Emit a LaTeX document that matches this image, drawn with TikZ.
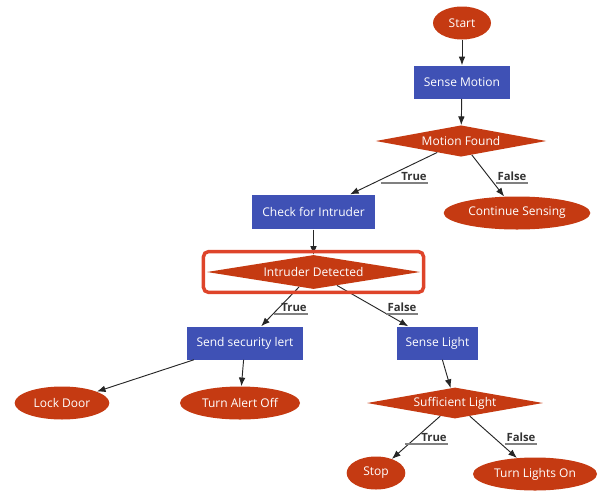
\documentclass[tikz,border=0pt]{standalone}
\usepackage{fontspec}
\setmainfont{Open Sans}
\usetikzlibrary{positioning,fit,shapes.geometric,arrows.meta}
\definecolor{flowred}{RGB}{197,58,18}
\definecolor{flowblue}{RGB}{63,81,181}
\definecolor{hired}{RGB}{222,68,42}

\begin{document}
\begin{tikzpicture}[
    x=0.75pt, y=-0.75pt,
    every node/.style={font=\fontsize{9}{10.5}\selectfont},
    term/.style={ellipse, fill=flowred, text=white, inner sep=1pt,
        minimum height=24.75pt},
    proc/.style={rectangle, fill=flowblue, text=white, inner sep=2pt,
        minimum height=24.75pt},
    dec/.style={diamond, fill=flowred, text=white, inner sep=0pt, aspect=6},
    arr/.style={draw=black!85, line width=0.7pt,
        -{Latex[length=6.5pt,width=5pt]}},
    elab/.style={font=\fontsize{8.5}{10}\selectfont\bfseries, text=black!80,
        inner xsep=1pt, inner ysep=1.5pt, anchor=south,
        append after command={([xshift=-#1]\tikzlastnode.south west)
            edge[draw=gray, line width=0.8pt] (\tikzlastnode.south east)}},
    elab/.default=0pt,
    hl/.style={rectangle, rounded corners=4pt, draw=hired, line width=2.6pt,
        inner sep=2.4pt},
]
    \useasboundingbox (0,0) rectangle (600,490);

    % Top
    \node[term, minimum width=43.5pt] (start) at (462,23) {Start};
    \node[proc, minimum width=72pt] (sense) at (462,82) {Sense Motion};
    \node[dec, minimum width=128pt, minimum height=23.5pt] (motion) at (461,141) {Motion Found};

    % Motion branches
    \node[proc, minimum width=92pt, minimum height=26pt] (check) at (313.5,212) {Check for Intruder};
    \node[term, minimum width=110pt] (cont) at (517,213) {Continue Sensing};
    \node[dec, minimum width=160pt, minimum height=25.5pt] (intr) at (313.5,272) {Intruder Detected};

    % Intruder branches
    \node[proc, minimum width=87pt] (alert) at (245,343) {Send security lert};
    \node[proc, minimum width=61pt] (light) at (437.5,343) {Sense Light};
    \node[dec, minimum width=132pt, minimum height=23.25pt] (suff) at (455,403) {Sufficient Light};

    % Leaves
    \node[term, minimum width=71pt] (lock) at (62,403) {Lock Door};
    \node[term, minimum width=90pt] (off) at (240,403) {Turn Alert Off};
    \node[term, minimum width=44pt] (stop) at (376,473) {Stop};
    \node[term, minimum width=93pt] (lights) at (535,474) {Turn Lights On};

    % Edges
    \foreach \a/\b in {start/sense, sense/motion, motion/check, motion/cont,
        check/intr, intr/alert, intr/light, alert/lock, alert/off,
        light/suff, suff/stop, suff/lights}
        \draw[arr] (\a) -- (\b);

    % Edge labels
    \node[elab=14pt] (mtrue)  at (414,183) {True};
    \node[elab]      (mfalse) at (512,183) {False};
    \node[elab=4pt]  (itrue)  at (294,314) {True};
    \node[elab]      (ifalse) at (402,314) {False};
    \node[elab=11pt] (strue)  at (434,444) {True};
    \node[elab]      (sfalse) at (521,444) {False};

    % Highlight
    \node[hl, fit=(intr)] (mark) {};
\end{tikzpicture}
\end{document}
